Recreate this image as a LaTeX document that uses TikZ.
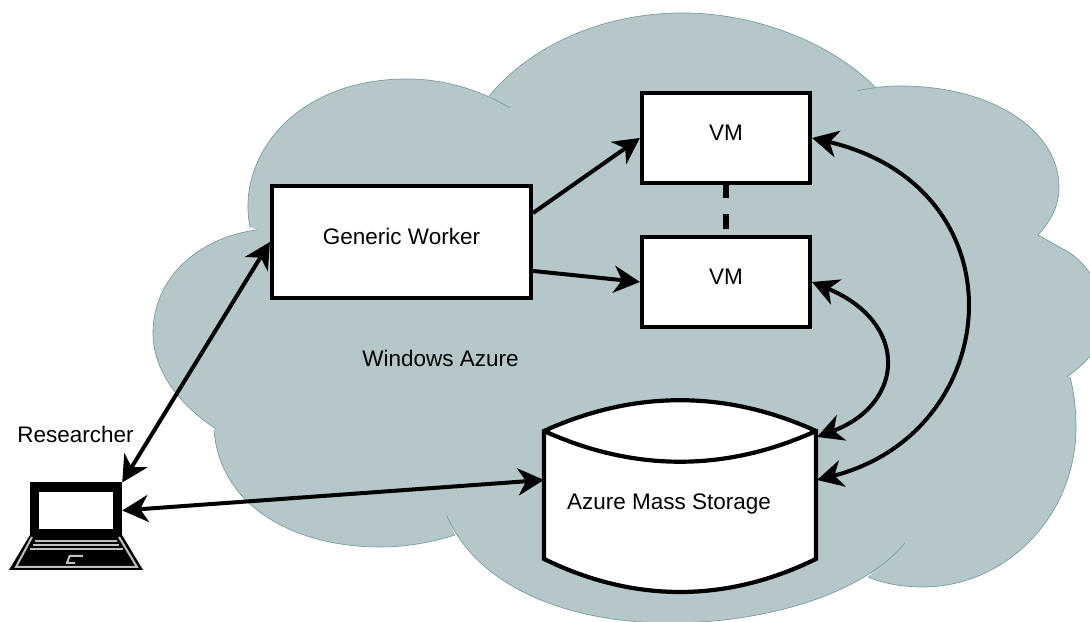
\documentclass[tikz,border=0pt]{standalone}
\usepackage{fontspec}
\setmainfont{Liberation Sans}
\usetikzlibrary{arrows.meta, positioning}
\definecolor{azfill}{HTML}{B5C7C9}
\definecolor{azedge}{HTML}{7A9C9F}

% Cloud bumps, clockwise from the upper left
\def\bumpa{(2.50,3.95) .. controls (2.36,4.65) and (2.95,5.43) .. (4.07,5.43) .. controls (4.45,5.43) and (4.80,5.32) .. (5.10,5.14)}
\def\bumpb{(4.89,5.26) .. controls (5.30,5.75) and (6.00,6.09) .. (6.83,6.09) .. controls (7.55,6.09) and (8.30,5.80) .. (8.75,5.35)}
\def\bumpc{(8.57,5.31) .. controls (8.72,5.345) and (8.86,5.36) .. (9.00,5.36) .. controls (9.95,5.36) and (10.59,4.90) .. (10.59,4.35) .. controls (10.59,4.15) and (10.50,4.00) .. (10.38,3.87)}
\def\bumpd{(10.38,3.87) -- (10.70,3.69) .. controls (10.90,3.55) and (11.05,3.30) .. (11.05,3.00) .. controls (11.05,2.80) and (10.90,2.62) .. (10.67,2.45)}
\def\bumpe{(10.70,2.45) .. controls (10.74,2.30) and (10.76,2.12) .. (10.76,1.95) .. controls (10.76,1.05) and (10.05,0.35) .. (9.23,0.35) .. controls (9.03,0.35) and (8.85,0.38) .. (8.68,0.45)}
\def\bumpf{(9.05,0.79) .. controls (8.60,0.25) and (7.60,-0.01) .. (6.70,-0.01) .. controls (5.60,-0.01) and (4.75,0.40) .. (4.47,1.06)}
\def\bumpg{(4.55,0.87) .. controls (4.30,0.79) and (4.05,0.75) .. (3.80,0.75) .. controls (2.95,0.75) and (2.20,1.15) .. (2.14,1.92)}
\def\bumph{(2.16,1.93) .. controls (1.75,2.20) and (1.53,2.55) .. (1.53,2.89) .. controls (1.53,3.45) and (2.00,3.85) .. (2.57,3.92)}

\begin{document}
\begin{tikzpicture}[
  every node/.style={font=\fontsize{6.4}{8}\selectfont},
  box/.style={rectangle, draw=black, fill=white, line width=0.042cm, text height=0.165cm, text depth=0.115cm},
  vmbox/.style={box, minimum width=1.68cm, minimum height=0.90cm},
  tag/.style={text height=0.165cm, text depth=0cm, inner sep=0pt},
  link/.style={line width=0.04cm, {Stealth[length=0.26cm,width=0.27cm,inset=0.08cm]}-{Stealth[length=0.26cm,width=0.27cm,inset=0.08cm]}},
  oneway/.style={line width=0.04cm, -{Stealth[length=0.26cm,width=0.27cm,inset=0.08cm]}},
  keyline/.style={draw=white!75!black, line width=0.02cm},
]
\useasboundingbox (0, 0) rectangle (10.9, 6.22);
\clip (0, 0) rectangle (10.9, 6.22);

% Cloud
\fill[azfill] \bumpa \bumpb \bumpc \bumpd \bumpe \bumpf \bumpg \bumph
  (2.50,3.95) -- (5.10,5.14) -- (4.89,5.26) -- (8.75,5.35) -- (8.57,5.31) -- (10.38,3.87) -- (10.67,2.45) -- (10.70,2.45) -- (8.68,0.45) -- (9.05,0.79) -- (4.47,1.06) -- (4.55,0.87) -- (2.14,1.92) -- (2.16,1.93) -- (2.57,3.92) -- cycle;
\draw[azedge, line width=0.07mm] \bumpa \bumpb \bumpc \bumpd \bumpe \bumpf \bumpg \bumph;

% Boxes
\node[box, minimum width=2.59cm, minimum height=1.115cm] (worker) at (4.015, 3.80) {Generic Worker};
\node[vmbox] (vmtop) at (7.26, 4.84) {VM};
\node[vmbox] (vmlow) at (7.26, 3.40) {VM};

% Storage drum
\node[minimum width=2.72cm, minimum height=1.28cm, inner sep=0pt, outer sep=0pt] (storage) at (6.80, 1.27) {};
\draw[fill=white, line width=0.042cm, line join=miter]
  (storage.north west) .. controls +(0.9, 0.41) and +(-0.9, 0.41) .. (storage.north east)
  -- (storage.south east) .. controls +(-0.9, -0.44) and +(0.9, -0.44) .. (storage.south west) -- cycle;
\draw[line width=0.042cm] (storage.north west) .. controls +(0.9, -0.41) and +(-0.9, -0.41) .. (storage.north east);
\node[tag] (storagetext) at (6.69, 1.21) {Azure Mass Storage};

% Laptop
\node[draw=black, fill=white, line width=0.095cm, minimum width=0.83cm, minimum height=0.465cm, inner sep=0pt] (laptop) at (0.76, 1.115) {};
\fill[black] (0.30, 0.87) -- (0.09, 0.52) -- (1.43, 0.52) -- (1.22, 0.87) -- cycle;
\draw[keyline] (0.32, 0.85) -- (0.16, 0.55) -- (1.37, 0.55) -- (1.19, 0.85);
\draw[keyline] (0.35, 0.81) -- (1.17, 0.81);
\draw[keyline] (0.33, 0.77) -- (1.19, 0.77);
\draw[keyline] (0.30, 0.725) -- (1.23, 0.725);
\draw[keyline] (0.83, 0.66) -- (0.695, 0.66) -- (0.67, 0.59) -- (0.75, 0.59);

% Labels
\node[tag] (researcher) at (0.755, 1.88) {Researcher};
\node[tag] (azure) at (4.405, 2.635) {Windows Azure};

% Links
\draw[oneway] ([yshift=0.29cm]worker.east) -- (vmtop.west);
\draw[oneway] ([yshift=-0.29cm]worker.east) -- (vmlow.west);
\draw[line width=0.05cm, dash pattern=on 0.13cm off 0.16cm on 0.15cm off 1cm] (vmtop.south) -- (vmlow.north);
\draw[link] (worker.west) -- (laptop.north east);
\draw[link] (laptop.east) -- ([yshift=0.15cm]storage.west);
\draw[link] (vmtop.east) .. controls (10.25, 4.34) and (10.05, 1.90) .. ([xshift=0.01cm, yshift=0.15cm]storage.east);
\draw[link] (vmlow.east) .. controls (9.10, 2.99) and (9.05, 2.18) .. ([xshift=0.01cm, yshift=0.58cm]storage.east);

\end{tikzpicture}
\end{document}
